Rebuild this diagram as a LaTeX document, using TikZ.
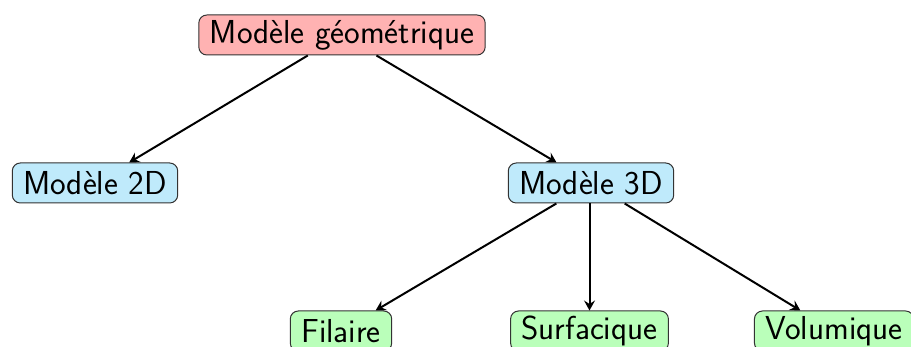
\documentclass[tikz,border=0pt]{standalone}
\usetikzlibrary{arrows.meta}
\begin{document}
\begin{tikzpicture}[x=0.5pt,y=-0.5pt,
  box/.style={draw=black!80, line width=0.5pt, rounded corners=4pt,
    font=\sffamily\fontsize{16.6}{19}\selectfont, inner xsep=5.5pt, inner ysep=2.5pt,
    minimum height=20pt},
  root/.style={box, fill=red!30},
  mid/.style={box, fill=cyan!25},
  leaf/.style={box, fill=green!27},
  link/.style={-{Stealth[length=5pt,width=5.5pt,inset=1.8pt]}, line width=1pt}]
\useasboundingbox (0,0) rectangle (911,347);
\node[root] (geo) at (342,35) {Modèle géométrique};
\node[mid] (d2) at (95,183) {Modèle 2D};
\node[mid] (d3) at (591,183) {Modèle 3D};
\node[leaf] (fil) at (341,331) {Filaire};
\node[leaf] (surf) at (589.5,331) {Surfacique};
\node[leaf] (vol) at (834,331) {Volumique};
\draw[link] (geo) -- (d2);
\draw[link] (geo) -- (d3);
\draw[link] (d3) -- (fil);
\draw[link] (d3.south -| surf.north) -- (surf.north);
\draw[link] (d3) -- (vol);
\end{tikzpicture}
\end{document}
